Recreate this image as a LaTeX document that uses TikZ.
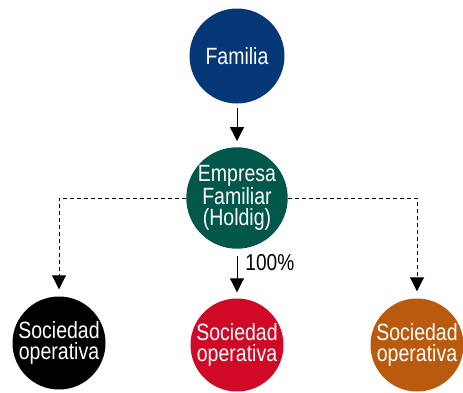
\documentclass[tikz,border=0pt]{standalone}
\usepackage{fontspec}
\setmainfont[FakeStretch=0.83]{Liberation Sans}
\usetikzlibrary{arrows.meta}
\definecolor{cnavy}{HTML}{063878}
\definecolor{cgreen}{HTML}{00574A}
\definecolor{cred}{HTML}{D00A26}
\definecolor{corange}{HTML}{B95A0F}
\begin{document}
\begin{tikzpicture}[x=1pt,y=-1pt,
  circ/.style={circle,minimum size=95pt,inner sep=0pt,text=white,align=center,
    font=\fontsize{23.5}{21.3}\selectfont},
  conn/.style={line width=0.9pt,-{Triangle[width=14pt,length=14pt]}},
  dconn/.style={conn,dash pattern=on 4pt off 3pt}]
\useasboundingbox (0,0) rectangle (463,392);
\node[circ,fill=cnavy] (fam) at (237,56) {Familia};
\node[circ,fill=cgreen] (emp) at (237,198) {Empresa\\Familiar\\(Holdig)};
\node[circ,fill=black,minimum size=93pt] (s1) at (59,343) {Sociedad\\operativa};
\node[circ,fill=cred,minimum size=93pt] (s2) at (237,345) {Sociedad\\operativa};
\node[circ,fill=corange,minimum size=93pt] (s3) at (417,345) {Sociedad\\operativa};
\draw[conn,shorten <=4pt,shorten >=6pt] (fam.south) -- (emp.north);
\draw[conn,shorten <=7pt,shorten >=6pt] (emp.south) -- node[pos=0.27,anchor=west,xshift=8pt,inner sep=0pt,font=\fontsize{23}{22}\selectfont] (pct) {100\%} (s2.north);
\draw[dconn,shorten >=7pt] (emp.west) -| (s1.north);
\draw[dconn,shorten >=7pt] (emp.east) -| (s3.north);
\end{tikzpicture}
\end{document}
